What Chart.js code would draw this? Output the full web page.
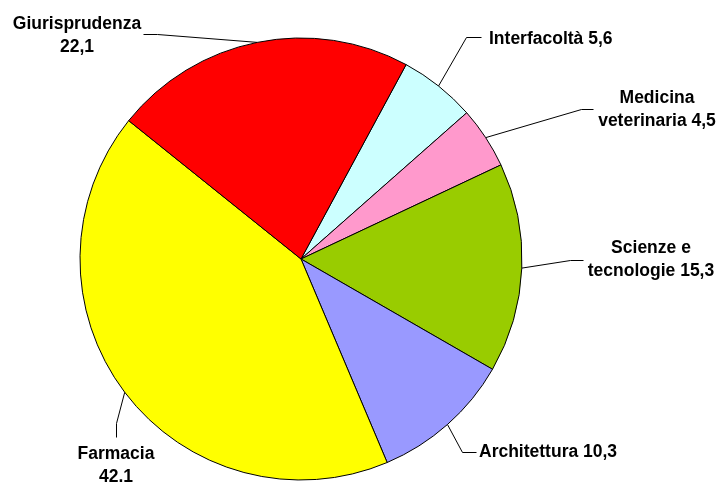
<!DOCTYPE html>
<html>
<head>
<meta charset="utf-8">
<script src="https://cdn.jsdelivr.net/npm/chart.js@4"></script>
<style>
  html, body { margin: 0; padding: 0; background: #fff; }
  #wrap { width: 719px; height: 483px; }
</style>
</head>
<body>
<div id="wrap"><canvas id="pie" width="719" height="483"></canvas></div>
<script>
/* ---------------------------------- Data ---------------------------------- */
const categories = ['Interfacoltà', 'Medicina veterinaria', 'Scienze e tecnologie', 'Architettura', 'Farmacia', 'Giurisprudenza'];
const values = [5.6, 4.5, 15.3, 10.3, 42.1, 22.1];
const valueLabels = ['5,6', '4,5', '15,3', '10,3', '42.1', '22,1'];
const labelLines = [
    ['Interfacoltà 5,6'],
    ['Medicina', 'veterinaria 4,5'],
    ['Scienze e', 'tecnologie 15,3'],
    ['Architettura 10,3'],
    ['Farmacia', '42.1'],
    ['Giurisprudenza', '22,1']
];
const colors = ['#CCFFFF', '#FF99CC', '#99CC00', '#9999FF', '#FFFF00', '#FF0000'];

/* ------------------------------ Label layout ------------------------------ */
// text position + the two fixed points of each leader line (the last point is the slice edge)
const labelLayout = [
    { x: 489, y: [44], align: 'left', path: [[481, 37], [466, 37]] },
    { x: 657, y: [103, 126], align: 'center', path: [[593, 109], [581, 109]] },
    { x: 651, y: [253, 276], align: 'center', path: [[583, 260], [570, 260]] },
    { x: 479, y: [457], align: 'left', path: [[476, 452], [462, 452]] },
    { x: 116, y: [459, 482], align: 'center', path: [[116, 437], [116, 423]] },
    { x: 77, y: [29, 52], align: 'center', path: [[143, 34], [157, 34]] }
];

const outsideLabels = {
    id: 'outsideLabels',
    afterDraw(chart) {
        const ctx = chart.ctx;
        const arcs = chart.getDatasetMeta(0).data;
        ctx.save();
        arcs.forEach((arc, i) => {
            const lay = labelLayout[i];
            const mid = (arc.startAngle + arc.endAngle) / 2;
            const ex = arc.x + Math.cos(mid) * arc.outerRadius;
            const ey = arc.y + Math.sin(mid) * arc.outerRadius;

            ctx.strokeStyle = '#000';
            ctx.lineWidth = 1;
            ctx.beginPath();
            ctx.moveTo(lay.path[0][0] + 0.5, lay.path[0][1] + 0.5);
            ctx.lineTo(lay.path[1][0] + 0.5, lay.path[1][1] + 0.5);
            ctx.lineTo(ex, ey);
            ctx.stroke();

            ctx.fillStyle = '#000';
            ctx.font = 'bold 17.5px "Liberation Sans", Arial, sans-serif';
            ctx.textAlign = lay.align;
            ctx.textBaseline = 'alphabetic';
            labelLines[i].forEach((line, k) => ctx.fillText(line, lay.x, lay.y[k]));
        });
        ctx.restore();
    }
};

/* -------------------------------- Chart.js -------------------------------- */
new Chart(document.getElementById('pie'), {
    type: 'pie',
    data: {
        labels: categories,
        datasets: [{
            data: values,
            backgroundColor: colors,
            borderColor: '#000',
            borderWidth: 1
        }]
    },
    options: {
        responsive: false,
        animation: false,
        devicePixelRatio: 1,
        rotation: 28.4,
        radius: 221,
        layout: { padding: { left: 0, right: 117, top: 37, bottom: 2 } },
        plugins: {
            legend: { display: false },
            tooltip: { enabled: false }
        }
    },
    plugins: [outsideLabels]
});
</script>
</body>
</html>
